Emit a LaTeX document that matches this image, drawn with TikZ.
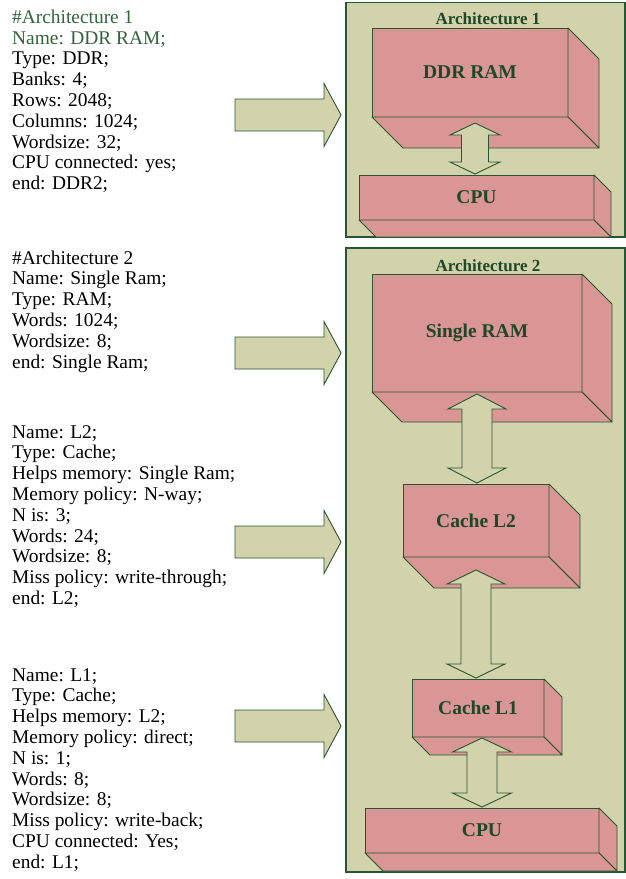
\documentclass[tikz,border=0pt]{standalone}
\usepackage{fontspec}
\setmainfont{Liberation Serif}
\usetikzlibrary{calc}
\definecolor{panelfill}{RGB}{211,211,171}
\definecolor{boxfill}{RGB}{217,150,148}
\definecolor{edge}{RGB}{40,85,50}
\definecolor{lbl}{RGB}{30,72,40}
\definecolor{hdr}{RGB}{50,100,58}
\newcommand\cuboid[7]{%
  \node[front, anchor=north west, minimum width=#4pt, minimum height=#5pt] (#1) at (#2,#3) {#7};
  \draw[face] (#1.north east) -- ++(#6,#6) -- ($(#1.south east)+(#6,#6)$) -- (#1.south east) -- cycle;
  \draw[face] (#1.south west) -- (#1.south east) -- ++(#6,#6) -- ($(#1.south west)+(#6,#6)$) -- cycle;
}
% #1 x centre, #2 top node, #3 top offset, #4 bottom node, #5 bottom offset, #6 shaft half, #7 head half, #8 head length
\newcommand\dbl[8]{%
  \draw[conn] let \p1=(#2.south), \p2=(#4.north) in
    (#1pt,\y1-#3pt) -- (#1pt+#7pt,\y1-#3pt-#8pt) -- (#1pt+#6pt,\y1-#3pt-#8pt)
    -- (#1pt+#6pt,\y2+#5pt+#8pt) -- (#1pt+#7pt,\y2+#5pt+#8pt) -- (#1pt,\y2+#5pt)
    -- (#1pt-#7pt,\y2+#5pt+#8pt) -- (#1pt-#6pt,\y2+#5pt+#8pt)
    -- (#1pt-#6pt,\y1-#3pt-#8pt) -- (#1pt-#7pt,\y1-#3pt-#8pt) -- cycle;
}
\newcommand\blockarrow[1]{%
  \draw[conn] (235,#1-16) -- (324,#1-16) -- (324,#1-31.5) -- (341,#1) -- (324,#1+31.5)
    -- (324,#1+16) -- (235,#1+16) -- cycle;
}
\begin{document}
\begin{tikzpicture}[x=1pt,y=-1pt,
  panel/.style={draw=edge, fill=panelfill, line width=1.2pt},
  face/.style={draw=edge, fill=boxfill, line width=0.9pt, line join=round},
  front/.style={face, rectangle, inner sep=0pt, outer sep=0pt,
    font=\bfseries\fontsize{19.5}{22}\selectfont, text=lbl},
  conn/.style={draw=edge, fill=panelfill, line width=0.9pt, line join=miter},
  ttl/.style={font=\bfseries\fontsize{17}{20}\selectfont, text=lbl, inner sep=0pt},
  spec/.style={anchor=north west, align=left, inner sep=0pt,
    font=\fontsize{19.4}{20.8}\selectfont},
]
\fill[white] (0,0) rectangle (626,879);
\useasboundingbox (0,0) rectangle (626,879);

% panels
\draw[panel] (346,2.5) rectangle (625,237);
\draw[panel] (346,248) rectangle (625,872);
\node[ttl] (t1) at (488,19) {Architecture 1};
\node[ttl] (t2) at (488,266) {Architecture 2};

% architecture 1
\cuboid{ddr}{372}{28}{196}{89}{31}{DDR RAM}
\cuboid{cpua}{359}{175}{235}{45}{17}{CPU}
\dbl{475}{ddr}{6}{cpua}{1}{13.5}{25}{12}

% architecture 2
\cuboid{sram}{372}{274}{210}{118}{30}{Single RAM}
\cuboid{ltwo}{403}{484}{146}{73}{31}{Cache L2}
\cuboid{lone}{412}{679}{132}{58}{18}{Cache L1}
\cuboid{cpub}{365}{808}{234}{45}{18}{CPU}
\dbl{477}{sram}{2}{ltwo}{1}{15}{29}{15}
\dbl{476}{ltwo}{13}{lone}{1}{15}{29}{14}
\dbl{482}{lone}{1}{cpub}{1}{15}{29.5}{14}

% block arrows
\blockarrow{115}
\blockarrow{353}
\blockarrow{542}
\blockarrow{726}

% text
\node[spec] (sa) at (12,8.44) {\strut\textcolor{hdr}{\#Architecture 1}\\
  \textcolor{hdr}{Name: DDR RAM;}\\
  Type: DDR;\\ Banks: 4;\\ Rows: 2048;\\ Columns: 1024;\\ Wordsize: 32;\\
  CPU connected: yes;\\ end: DDR2;};
\node[spec] (sb) at (12,249.4) {\strut\#Architecture 2\\ Name: Single Ram;\\ Type: RAM;\\
  Words: 1024;\\ Wordsize: 8;\\ end: Single Ram;};
\node[spec] (sc) at (12,423.4) {\strut Name: L2;\\ Type: Cache;\\ Helps memory: Single Ram;\\
  Memory policy: N-way;\\ N is: 3;\\ Words: 24;\\ Wordsize: 8;\\
  Miss policy: write-through;\\ end: L2;};
\node[spec] (sd) at (12,666.4) {\strut Name: L1;\\ Type: Cache;\\ Helps memory: L2;\\
  Memory policy: direct;\\ N is: 1;\\ Words: 8;\\ Wordsize: 8;\\
  Miss policy: write-back;\\ CPU connected: Yes;\\ end: L1;};
\end{tikzpicture}
\end{document}
